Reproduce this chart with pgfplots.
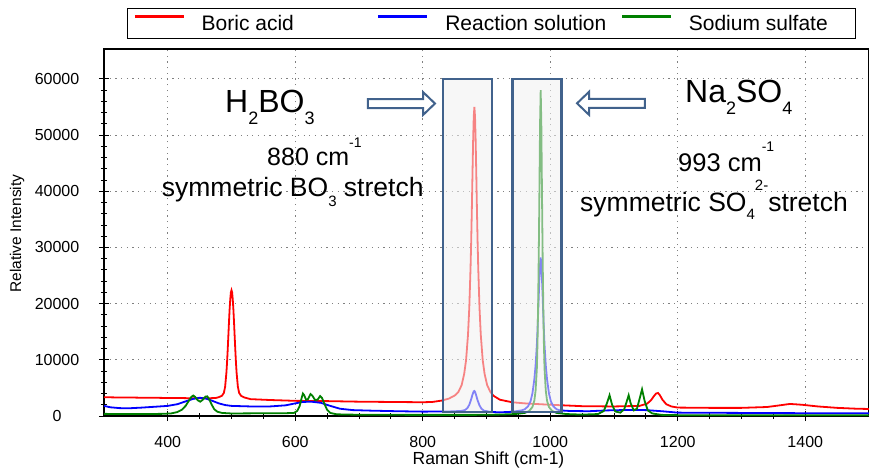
\documentclass[border=0pt]{standalone}
\usepackage{fontspec}
\setmainfont{Liberation Sans}
\usepackage{pgfplots}
\pgfplotsset{compat=1.18}
\definecolor{boxblue}{RGB}{65,98,140}
\definecolor{sgreen}{RGB}{0,128,0}

\begin{document}
\begin{tikzpicture}
\begin{axis}[
  scale only axis,
  width=765pt, height=367pt,
  xmin=300, xmax=1500, ymin=0, ymax=65330,
  xtick={400,600,...,1400}, minor x tick num=3,
  ytick={0,10000,...,60000}, minor y tick num=4,
  scaled y ticks=false,
  /pgf/number format/assume math mode=true,
  /pgf/number format/1000 sep={},
  tick pos=left,
  tick align=center,
  major tick length=10pt, minor tick length=6pt,
  tick style={black, line width=0.9pt},
  axis line style={black, line width=1.3pt},
  grid=major,
  grid style={gray, line width=0.9pt, dash pattern=on 1.2pt off 4.5pt},
  ticklabel style={font=\fontsize{16}{16}\selectfont},
  xticklabel style={anchor=north, inner sep=0pt, yshift=-15pt},
  yticklabel style={anchor=center, inner sep=0pt, xshift=-42pt},
  xlabel={Raman Shift (cm-1)},
  xlabel style={at={(axis description cs:0.5026,-0.0960)}, anchor=north,
    font=\fontsize{17.5}{18}\selectfont, inner sep=0pt},
  ylabel={Relative Intensity},
  ylabel style={at={(axis description cs:-0.1137,0.497)}, anchor=center,
    font=\fontsize{15.5}{16}\selectfont, inner sep=0pt},
  legend columns=3,
  legend style={at={(axis description cs:0.5065,1.1117)}, anchor=north,
    draw=black, line width=1pt, inner xsep=6pt, inner ysep=6pt,
    font=\fontsize{21}{21}\selectfont, nodes={inner sep=0pt}},
  legend image code/.code={\draw[#1, line width=3.6pt] (0pt,7.5pt) -- (49pt,7.5pt);},
  every axis plot/.append style={line width=1.8pt},
]

% Boric acid
\addplot[red] coordinates {
(300,3350)(320,3300)(340,3300)(360,3250)(380,3250)(400,3200)(420,3200)(440,3150)
(460,3150)(475,3200)(480,3350)(485,3600)(488,4100)(490,5200)(492,7700)(493,9500)
(494,11700)(495,14100)(496,16600)(497,18900)(498,20700)(499,22000)(500,22400)
(501,22000)(502,20700)(503,18900)(504,16600)(505,14100)(506,11700)(507,9500)
(508,7700)(510,5200)(512,4100)(515,3600)(520,3300)(530,3000)(560,2850)(600,2700)
(650,2650)(700,2550)(750,2500)(800,2450)(815,2500)(830,2750)(841,3100)(851,3700)
(856,4300)(861,5500)(865,7500)(868,10000)(871,14500)(873,19300)(875,26500)
(876,31200)(877,36800)(878,43000)(879,48900)(880,53300)(881,55000)(882,53300)
(883,48900)(884,43000)(885,36800)(886,31200)(887,26500)(889,19300)(891,14500)
(894,10000)(897,7500)(901,5500)(906,4300)(911,3600)(921,2900)(940,2450)(960,2250)
(1000,2000)(1050,1750)(1100,1700)(1140,1800)(1152,2200)(1158,2800)(1163,3600)
(1166,4000)(1169,4100)(1172,3700)(1176,2900)(1182,2100)(1190,1700)(1200,1500)
(1250,1450)(1300,1450)(1340,1600)(1360,1900)(1376,2150)(1395,2000)(1420,1700)
(1450,1450)(1480,1300)(1500,1250)
};
\addlegendentry{\hspace*{16pt}\makebox[175pt][l]{Boric acid}}

% Reaction solution
\addplot[blue] coordinates {
(300,1800)(310,1550)(325,1400)(340,1380)(360,1500)(380,1650)(400,1800)(415,2100)
(428,2600)(440,3050)(450,3250)(460,3100)(470,2700)(480,2250)(490,1950)(500,1800)
(530,1700)(560,1700)(585,1900)(600,2250)(612,2500)(625,2550)(640,2350)(655,1800)
(670,1300)(690,1050)(720,950)(760,850)(800,780)(840,800)(860,900)(866,1050)
(870,1400)(873,2000)(876,3000)(878,3800)(880,4400)(881,4450)(882,4300)(884,3600)
(886,2800)(889,1900)(892,1300)(896,950)(905,750)(920,650)(940,750)(955,1000)
(960,1200)(965,1700)(969,2600)(972,4000)(975,6500)(977,9000)(979,12700)(980,15300)
(981,18300)(982,21500)(983,24500)(984,27000)(985,28200)(986,27000)(987,24500)
(988,21500)(989,18300)(990,15300)(991,12700)(993,9000)(995,6500)(998,4000)
(1001,2600)(1005,1700)(1010,1200)(1015,1000)(1030,900)(1060,850)(1090,1000)
(1120,1070)(1150,1050)(1175,850)(1200,600)(1300,550)(1400,500)(1500,480)
};
\addlegendentry{\hspace*{16pt}\makebox[175pt][l]{Reaction solution}}

% Sodium sulfate
\addplot[sgreen] coordinates {
(300,380)(330,350)(360,350)(390,380)(405,450)(415,700)(422,1100)(428,1800)
(433,2700)(437,3400)(440,3650)(443,3400)(447,2800)(451,2550)(455,2900)(459,3450)
(462,3500)(465,3000)(469,2000)(473,1200)(478,750)(485,550)(500,450)(540,480)
(580,480)(598,550)(603,900)(607,1800)(610,3200)(612,4000)(614,3700)(617,2900)
(620,3000)(624,3900)(627,3600)(631,2850)(635,2900)(639,3550)(642,3200)(646,2100)
(650,1100)(655,550)(665,300)(700,220)(800,200)(880,200)(920,250)(945,350)
(960,550)(967,900)(972,1600)(975,2700)(977,4500)(979,8500)(980,13000)(981,20000)
(982,29000)(983,40000)(984,52000)(985,58000)(986,52000)(987,40000)(988,29000)
(989,20000)(990,13000)(991,8500)(993,4500)(995,2700)(998,1600)(1003,900)
(1010,550)(1025,350)(1050,250)(1075,350)(1084,900)(1089,2300)(1093,3700)
(1097,2000)(1102,800)(1110,600)(1116,1200)(1120,2600)(1123,3700)(1126,2300)
(1131,1000)(1136,1300)(1140,3000)(1144,4750)(1148,2700)(1153,1000)(1160,450)
(1175,200)(1200,150)(1300,130)(1400,120)(1500,120)
};
\addlegendentry{\hspace*{16pt}\makebox[161pt][l]{Sodium sulfate}}

% highlight boxes
\draw[boxblue, line width=2.5pt, fill=gray!12, fill opacity=0.55, draw opacity=1]
  (axis cs:831.8,712) rectangle (axis cs:908.6,59986);
\draw[boxblue, line width=2.5pt, fill=gray!12, fill opacity=0.55, draw opacity=1]
  (axis cs:941.1,712) rectangle (axis cs:1017.9,59986);

% block arrows
\draw[boxblue, line width=2pt, fill=white]
  (axis cs:714.1,56426) -- (axis cs:800.4,56426) -- (axis cs:800.4,57672)
  -- (axis cs:819.2,55625) -- (axis cs:800.4,53578) -- (axis cs:800.4,54824)
  -- (axis cs:714.1,54824) -- cycle;
\draw[boxblue, line width=2pt, fill=white]
  (axis cs:1148.6,56462) -- (axis cs:1060.8,56462) -- (axis cs:1060.8,57708)
  -- (axis cs:1042,55661) -- (axis cs:1060.8,53614) -- (axis cs:1060.8,54860)
  -- (axis cs:1148.6,54860) -- cycle;

% annotations
\node[anchor=base west, inner sep=0pt, font=\fontsize{32}{32}\selectfont]
  at (axis cs:489.8,54060)
  {H\raisebox{-12.5pt}{\fontsize{18}{18}\selectfont 2}BO\raisebox{-12.5pt}{\fontsize{18}{18}\selectfont 3}};
\node[anchor=base west, inner sep=0pt, font=\fontsize{25}{25}\selectfont]
  at (axis cs:555.7,44550)
  {880 cm\raisebox{18.5pt}{\fontsize{14}{14}\selectfont -1}};
\node[anchor=base west, inner sep=0pt, font=\fontsize{26.5}{26.5}\selectfont]
  at (axis cs:390.5,39035)
  {symmetric BO\raisebox{-10pt}{\fontsize{15}{15}\selectfont 3} stretch};
\node[anchor=base west, inner sep=0pt, font=\fontsize{32}{32}\selectfont]
  at (axis cs:1211.4,55840)
  {Na\raisebox{-12pt}{\fontsize{18}{18}\selectfont 2}SO\raisebox{-12pt}{\fontsize{18}{18}\selectfont 4}};
\node[anchor=base west, inner sep=0pt, font=\fontsize{25.5}{25.5}\selectfont]
  at (axis cs:1200.4,43610)
  {993 cm\raisebox{20pt}{\fontsize{14}{14}\selectfont -1}};
\node[anchor=base west, inner sep=0pt, font=\fontsize{26.5}{26.5}\selectfont]
  at (axis cs:1046.7,36365)
  {symmetric SO\raisebox{-7.5pt}{\fontsize{15}{15}\selectfont 4}\raisebox{21.5pt}{\fontsize{15}{15}\selectfont 2-}stretch};

\coordinate (O) at (rel axis cs:0,0);
\end{axis}
\pgfresetboundingbox
\path[use as bounding box] (O) ++(-104pt,-53pt) rectangle ++(869pt,469pt);
\end{tikzpicture}
\end{document}
